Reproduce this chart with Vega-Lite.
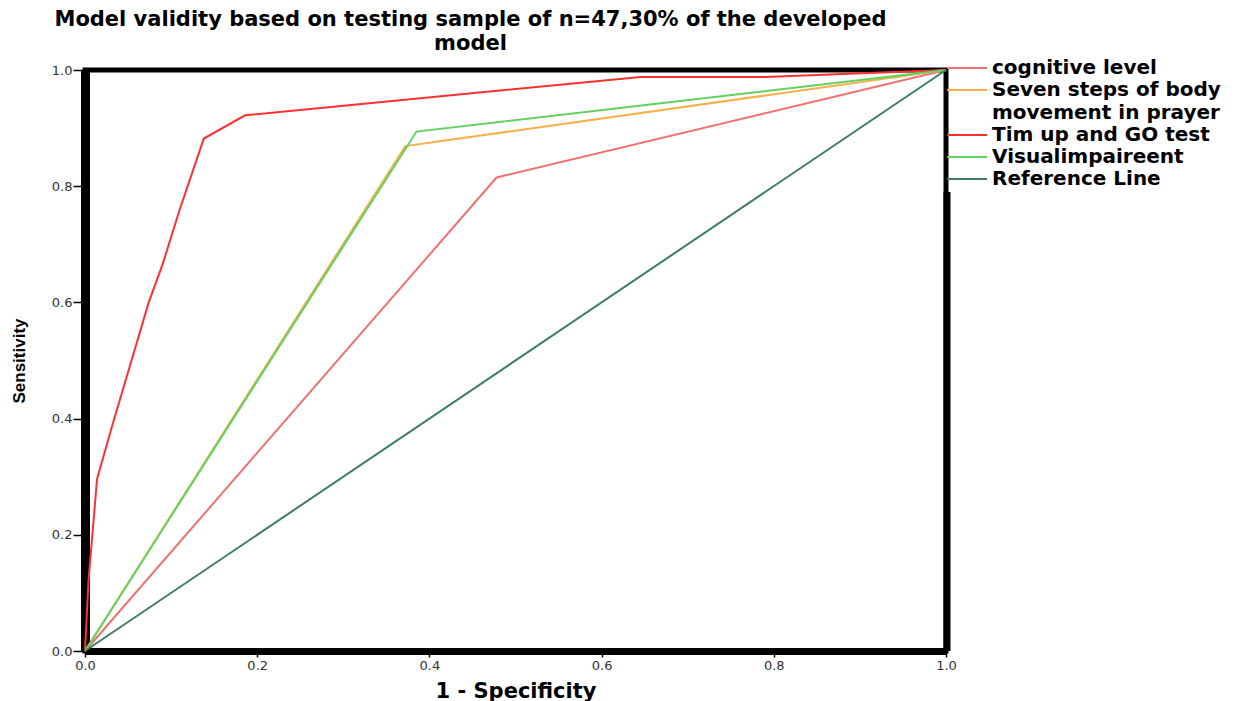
{
  "$schema": "https://vega.github.io/schema/vega-lite/v6.json",
  "width": 861,
  "height": 581,
  "autosize": {"type": "none"},
  "padding": {"left": 85, "top": 70, "right": 309, "bottom": 50},
  "background": "white",
  "title": {
    "text": ["Model validity based on testing sample of n=47,30% of the developed", "model"],
    "font": "DejaVu Sans",
    "fontSize": 21,
    "fontWeight": "bold",
    "color": "black",
    "lineHeight": 24,
    "anchor": "middle",
    "dx": -45,
    "offset": 3
  },
  "config": {
    "view": {"stroke": "black", "strokeWidth": 5},
    "axis": {"grid": false}
  },
  "datasets": {
    "roc": [
      {"series": "cognitive level", "x": 0, "y": 0},
      {"series": "cognitive level", "x": 0.478, "y": 0.815},
      {"series": "cognitive level", "x": 1, "y": 1},
      {"series": "Seven steps of body movement in prayer", "x": 0, "y": 0},
      {"series": "Seven steps of body movement in prayer", "x": 0.372, "y": 0.869},
      {"series": "Seven steps of body movement in prayer", "x": 1, "y": 1},
      {"series": "Tim up and GO test", "x": 0, "y": 0},
      {"series": "Tim up and GO test", "x": 0.004, "y": 0.12},
      {"series": "Tim up and GO test", "x": 0.014, "y": 0.296},
      {"series": "Tim up and GO test", "x": 0.032, "y": 0.39},
      {"series": "Tim up and GO test", "x": 0.074, "y": 0.6},
      {"series": "Tim up and GO test", "x": 0.09, "y": 0.665},
      {"series": "Tim up and GO test", "x": 0.11, "y": 0.76},
      {"series": "Tim up and GO test", "x": 0.138, "y": 0.882},
      {"series": "Tim up and GO test", "x": 0.186, "y": 0.922},
      {"series": "Tim up and GO test", "x": 0.645, "y": 0.988},
      {"series": "Tim up and GO test", "x": 0.79, "y": 0.988},
      {"series": "Tim up and GO test", "x": 1, "y": 1},
      {"series": "Visualimpaireent", "x": 0, "y": 0},
      {"series": "Visualimpaireent", "x": 0.385, "y": 0.894},
      {"series": "Visualimpaireent", "x": 1, "y": 1},
      {"series": "Reference Line", "x": 0, "y": 0},
      {"series": "Reference Line", "x": 1, "y": 1}
    ],
    "frame": [
      {"x": 1, "y": 0, "y2": 0.79}
    ]
  },
  "layer": [
    {
      "data": {"name": "roc"},
      "mark": {"type": "line", "strokeWidth": 2},
      "encoding": {
        "x": {
          "field": "x",
          "type": "quantitative",
          "scale": {"domain": [0, 1], "nice": false},
          "axis": {
            "title": "1 - Specificity",
            "values": [0, 0.2, 0.4, 0.6, 0.8, 1],
            "format": ".1f",
            "labelFlush": false,
            "domainWidth": 7,
            "domainColor": "black",
            "tickColor": "black",
            "tickSize": 6,
            "tickWidth": 1.5,
            "labelFont": "DejaVu Sans",
            "labelFontSize": 13,
            "labelColor": "#333333",
            "labelPadding": 2,
            "titleFont": "DejaVu Sans",
            "titleFontSize": 21,
            "titleFontWeight": "bold",
            "titleColor": "black",
            "titlePadding": 8
          }
        },
        "y": {
          "field": "y",
          "type": "quantitative",
          "scale": {"domain": [0, 1], "nice": false},
          "axis": {
            "title": "Sensitivity",
            "values": [0, 0.2, 0.4, 0.6, 0.8, 1],
            "format": ".1f",
            "labelFlush": false,
            "domainWidth": 9,
            "domainColor": "black",
            "tickColor": "black",
            "tickSize": 12,
            "tickWidth": 1.5,
            "labelFont": "DejaVu Sans",
            "labelFontSize": 13,
            "labelColor": "#333333",
            "labelPadding": 1,
            "titleFont": "Liberation Sans",
            "titleFontSize": 17,
            "titleFontWeight": "bold",
            "titleColor": "black",
            "titlePadding": 23
          }
        },
        "color": {
          "field": "series",
          "type": "nominal",
          "scale": {
            "domain": ["cognitive level", "Seven steps of body movement in prayer", "Tim up and GO test", "Visualimpaireent", "Reference Line"],
            "range": ["#f27070", "#f5b04a", "#ff3030", "#62d262", "#3e7e5e"]
          },
          "legend": {
            "title": null,
            "orient": "none",
            "legendX": 871,
            "legendY": -13,
            "padding": 0,
            "symbolType": "M-2,0H2",
            "symbolSize": 400,
            "symbolStrokeWidth": 2,
            "labelFont": "DejaVu Sans",
            "labelFontSize": 20,
            "labelFontWeight": "bold",
            "labelColor": "black",
            "labelLimit": 400,
            "labelOffset": 14,
            "rowPadding": 1,
            "labelExpr": "datum.label == 'Seven steps of body movement in prayer' ? ['Seven steps of body', 'movement in prayer'] : datum.label",
            "encode": {"labels": {"update": {"lineHeight": {"value": 23}}}}
          }
        }
      }
    },
    {
      "data": {"name": "frame"},
      "mark": {"type": "rule", "color": "black", "strokeWidth": 7, "xOffset": 1},
      "encoding": {
        "x": {"field": "x", "type": "quantitative"},
        "y": {"field": "y", "type": "quantitative"},
        "y2": {"field": "y2"}
      }
    }
  ]
}
